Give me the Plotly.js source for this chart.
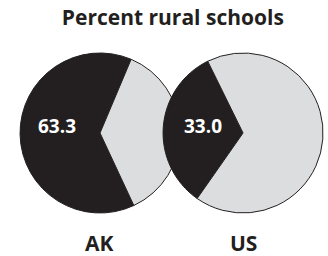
<!DOCTYPE html>
<html>
<head>
<meta charset="utf-8">
<script src="https://cdn.plot.ly/plotly-3.0.1.min.js"></script>
<style>html,body{margin:0;padding:0;background:#fff;}#chart{width:328px;height:256px;}</style>
</head>
<body>
<div id="chart"></div>
<script>
const regions = ["AK", "US"];
const ruralPct = [63.3, 33.0];
const sliceLabels = ["Rural", "Not rural"];
const chartTitle = "Percent rural schools";

const dark = "#231f20";
const light = "#dcdddf";
const FONT = "Open Sans, DejaVu Sans, sans-serif";

const domainsX = [[0.061, 0.549], [0.497, 0.985]];
const domainY = [0.168, 0.793];
const rotations = [155, 215];

const traces = regions.map((r, i) => ({
  type: "pie",
  name: r,
  labels: sliceLabels,
  values: [ruralPct[i], +(100 - ruralPct[i]).toFixed(1)],
  sort: false,
  direction: "clockwise",
  rotation: rotations[i],
  textinfo: "none",
  hoverinfo: "none",
  showlegend: false,
  domain: {x: domainsX[i], y: domainY},
  marker: {colors: [dark, light], line: {color: dark, width: 1}}
}));

const valuePos = [[0.175, 0.508], [0.619, 0.508]];
const labelPos = [[0.302, 0.051], [0.741, 0.051]];
const annotations = [];
regions.forEach((r, i) => {
  annotations.push({
    text: "<b>" + ruralPct[i].toFixed(1) + "</b>",
    x: valuePos[i][0], y: valuePos[i][1], xref: "paper", yref: "paper",
    xanchor: "center", yanchor: "middle", showarrow: false,
    font: {family: FONT, size: 19, color: "#ffffff"}
  });
  annotations.push({
    text: "<b>" + r + "</b>",
    x: labelPos[i][0], y: labelPos[i][1], xref: "paper", yref: "paper",
    xanchor: "center", yanchor: "middle", showarrow: false,
    font: {family: FONT, size: 21, color: dark}
  });
});

const layout = {
  width: 328, height: 256,
  margin: {l: 0, r: 0, t: 0, b: 0},
  paper_bgcolor: "#ffffff",
  title: {
    text: "<b>" + chartTitle + "</b>",
    x: 0.527, xanchor: "center", y: 0.93, yanchor: "middle", yref: "container",
    font: {family: FONT, size: 21, color: dark}
  },
  annotations: annotations
};

Plotly.newPlot("chart", traces, layout, {staticPlot: true, displayModeBar: false});
</script>
</body>
</html>
